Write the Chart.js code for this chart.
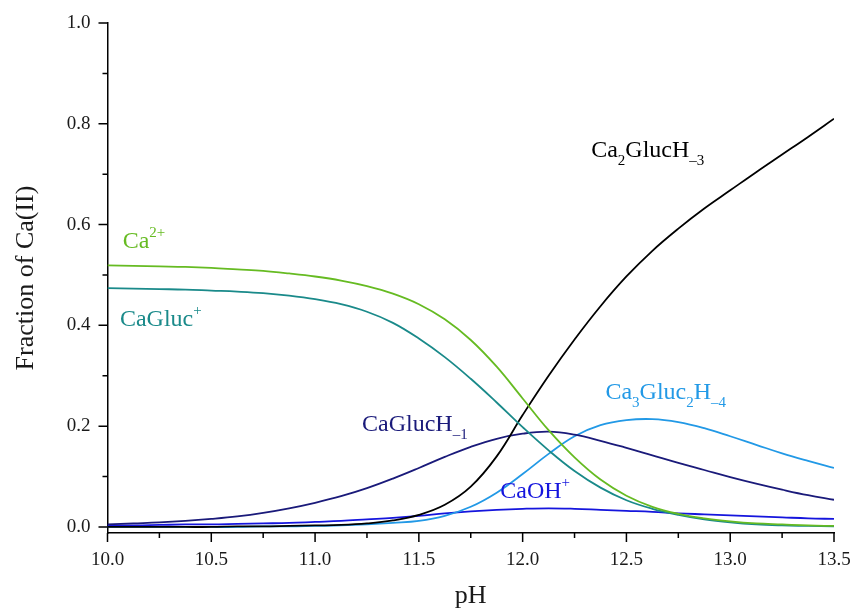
<!DOCTYPE html>
<html><head><meta charset="utf-8">
<script src="https://cdn.jsdelivr.net/npm/chart.js@4.4.1/dist/chart.umd.min.js"></script>
<style>html,body{margin:0;padding:0;background:#fff}</style>
</head><body>
<canvas id="c" width="856" height="612"></canvas>
<script>
// ---- data ----
const pH        = [10.0, 10.125, 10.25, 10.375, 10.5, 10.625, 10.75, 10.875, 11.0, 11.125, 11.25, 11.375, 11.5, 11.625, 11.75, 11.875, 12.0, 12.125, 12.25, 12.375, 12.5, 12.625, 12.75, 12.875, 13.0, 13.125, 13.25, 13.375, 13.5];
const ca2       = [0.519, 0.518, 0.517, 0.516, 0.514, 0.511, 0.508, 0.503, 0.497, 0.489, 0.478, 0.463, 0.442, 0.412, 0.371, 0.318, 0.255, 0.192, 0.138, 0.094, 0.062, 0.040, 0.026, 0.017, 0.011, 0.007, 0.005, 0.003, 0.002];
const caGluc    = [0.474, 0.473, 0.472, 0.471, 0.469, 0.467, 0.464, 0.459, 0.452, 0.442, 0.427, 0.405, 0.374, 0.337, 0.294, 0.247, 0.198, 0.152, 0.111, 0.078, 0.053, 0.036, 0.024, 0.015, 0.009, 0.005, 0.003, 0.002, 0.001];
const ca2GlucH3 = [0.000, 0.000, 0.000, 0.000, 0.000, 0.001, 0.001, 0.002, 0.003, 0.004, 0.007, 0.013, 0.024, 0.044, 0.080, 0.140, 0.222, 0.300, 0.372, 0.438, 0.497, 0.548, 0.592, 0.632, 0.668, 0.704, 0.739, 0.774, 0.810];
const caGlucH1  = [0.005, 0.007, 0.009, 0.012, 0.016, 0.021, 0.028, 0.037, 0.048, 0.061, 0.077, 0.096, 0.117, 0.139, 0.159, 0.175, 0.185, 0.189, 0.183, 0.171, 0.157, 0.142, 0.127, 0.113, 0.099, 0.086, 0.074, 0.063, 0.054];
const ca3Gluc2H4= [0.000, 0.000, 0.000, 0.000, 0.000, 0.000, 0.001, 0.001, 0.002, 0.003, 0.005, 0.008, 0.012, 0.022, 0.040, 0.068, 0.105, 0.145, 0.180, 0.202, 0.212, 0.214, 0.208, 0.196, 0.180, 0.163, 0.146, 0.131, 0.117];
const caOH      = [0.003, 0.003, 0.004, 0.005, 0.005, 0.006, 0.007, 0.008, 0.010, 0.012, 0.015, 0.018, 0.022, 0.027, 0.031, 0.034, 0.036, 0.037, 0.036, 0.034, 0.032, 0.030, 0.027, 0.025, 0.023, 0.021, 0.019, 0.017, 0.016];

const xMajorTicks = [10.0, 10.5, 11.0, 11.5, 12.0, 12.5, 13.0, 13.5];
const xMinorTicks = [10.25, 10.75, 11.25, 11.75, 12.25, 12.75, 13.25];
const yMajorTicks = [0.0, 0.2, 0.4, 0.6, 0.8, 1.0];
const yMinorTicks = [0.1, 0.3, 0.5, 0.7, 0.9];

// ---- styles ----
const colors = {
  ca2: '#66bb22', caGluc: '#1a8a8a', ca2GlucH3: '#000000',
  caGlucH1: '#1a1a7a', ca3Gluc2H4: '#2299e6', caOH: '#1515dd'
};
const serif = '"Liberation Serif", "DejaVu Serif", serif';
const textColor = '#1a1a1a';

function series(label, arr, color) {
  return {
    label, data: pH.map((v, i) => ({x: v, y: arr[i]})),
    borderColor: color, borderWidth: 1.8, pointRadius: 0, fill: false,
    tension: 0.4
  };
}

// Species labels: [parts, pH anchor, fraction anchor (baseline), color]
const speciesLabels = [
  [[['Ca',''],['2+','sup']], 10.073, 0.554, colors.ca2],
  [[['CaGluc',''],['+','sup']], 10.060, 0.399, colors.caGluc],
  [[['CaGlucH',''],['\u20131','sub']], 11.226, 0.190, colors.caGlucH1],
  [[['CaOH',''],['+','sup']], 11.892, 0.058, colors.caOH],
  [[['Ca',''],['3','sub'],['Gluc',''],['2','sub'],['H',''],['\u20134','sub']], 12.399, 0.254, colors.ca3Gluc2H4],
  [[['Ca',''],['2','sub'],['GlucH',''],['\u20133','sub']], 12.33, 0.735, colors.ca2GlucH3]
];

const ticksPlugin = {
  id: 'ticksPlugin',
  afterDraw(chart) {
    const {ctx, scales: {x, y}, chartArea: ca} = chart;
    ctx.save();
    ctx.strokeStyle = '#000'; ctx.lineWidth = 1.5;
    ctx.beginPath();
    xMajorTicks.forEach(v => { const p = x.getPixelForValue(v); ctx.moveTo(p, ca.bottom); ctx.lineTo(p, ca.bottom + 9); });
    xMinorTicks.forEach(v => { const p = x.getPixelForValue(v); ctx.moveTo(p, ca.bottom); ctx.lineTo(p, ca.bottom + 5); });
    yMajorTicks.forEach(v => { const p = y.getPixelForValue(v); ctx.moveTo(ca.left, p); ctx.lineTo(ca.left - 9, p); });
    yMinorTicks.forEach(v => { const p = y.getPixelForValue(v); ctx.moveTo(ca.left, p); ctx.lineTo(ca.left - 5, p); });
    ctx.stroke();
    ctx.restore();
  }
};

const labelsPlugin = {
  id: 'labelsPlugin',
  afterDatasetsDraw(chart) {
    const {ctx, scales: {x, y}} = chart;
    ctx.save();
    ctx.textBaseline = 'alphabetic'; ctx.textAlign = 'left';
    speciesLabels.forEach(([parts, px, py, color]) => {
      let cx = x.getPixelForValue(px);
      const cy = y.getPixelForValue(py);
      ctx.fillStyle = color;
      parts.forEach(([t, kind]) => {
        let dy = 0;
        if (kind === 'sub') { ctx.font = '15px ' + serif; dy = 8; }
        else if (kind === 'sup') { ctx.font = '15px ' + serif; dy = -11; }
        else { ctx.font = '24px ' + serif; }
        ctx.fillText(t, cx, cy + dy);
        cx += ctx.measureText(t).width;
      });
    });
    ctx.restore();
  }
};

new Chart(document.getElementById('c'), {
  type: 'line',
  data: {
    datasets: [
      series('Ca2+', ca2, colors.ca2),
      series('CaGluc+', caGluc, colors.caGluc),
      series('Ca2GlucH-3', ca2GlucH3, colors.ca2GlucH3),
      series('CaGlucH-1', caGlucH1, colors.caGlucH1),
      series('Ca3Gluc2H-4', ca3Gluc2H4, colors.ca3Gluc2H4),
      series('CaOH+', caOH, colors.caOH)
    ]
  },
  options: {
    responsive: false, animation: false, devicePixelRatio: 1,
    layout: {padding: {top: 23, right: 22, bottom: 0, left: 0}},
    plugins: {legend: {display: false}, tooltip: {enabled: false}},
    scales: {
      x: {
        type: 'linear', min: 10, max: 13.5,
        afterBuildTicks(s) { s.ticks = xMajorTicks.map(v => ({value: v})); },
        afterFit(s) { s.height = 79; s.paddingLeft = 0; s.paddingRight = 0; },
        grid: {display: true, drawOnChartArea: false, drawTicks: false},
        border: {display: true, color: '#000', width: 1.5},
        ticks: {padding: 16, color: textColor, font: {family: serif, size: 19}, maxRotation: 0,
                callback: v => Number(v).toFixed(1)},
        title: {display: true, text: 'pH', color: textColor, font: {family: serif, size: 26}, padding: {top: 0, bottom: 0}}
      },
      y: {
        type: 'linear', min: -0.012, max: 1.0,
        afterBuildTicks(s) { s.ticks = yMajorTicks.map(v => ({value: v})); },
        afterFit(s) { s.width = 107.5; s.paddingTop = 0; s.paddingBottom = 0; },
        grid: {display: true, drawOnChartArea: false, drawTicks: false},
        border: {display: true, color: '#000', width: 1.5},
        ticks: {padding: 17, color: textColor, font: {family: serif, size: 19},
                callback: v => Number(v).toFixed(1)},
        title: {display: true, text: 'Fraction of Ca(II)', color: textColor, font: {family: serif, size: 26}, padding: {top: 11, bottom: 0}}
      }
    }
  },
  plugins: [ticksPlugin, labelsPlugin]
});
</script>
</body></html>
